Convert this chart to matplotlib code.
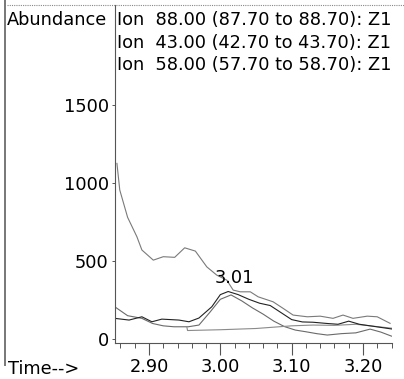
import matplotlib
matplotlib.use("Agg")
import matplotlib.pyplot as plt
from matplotlib.ticker import MultipleLocator
from matplotlib.lines import Line2D

# ion traces (time in min, abundance)
t_88 = [2.855, 2.859, 2.870, 2.883, 2.890, 2.906, 2.920, 2.936, 2.950, 2.965,
        2.981, 2.995, 3.009, 3.018, 3.028, 3.042, 3.053, 3.074, 3.088, 3.102,
        3.122, 3.140, 3.158, 3.172, 3.186, 3.206, 3.220, 3.238]
ab_88 = [1126, 955, 780, 656, 571, 506, 528, 524, 585, 564,
         463, 410, 378, 314, 303, 303, 271, 239, 197, 154,
         143, 147, 133, 154, 133, 147, 143, 101]

t_43 = [2.852, 2.872, 2.890, 2.904, 2.918, 2.942, 2.956, 2.970, 2.988, 3.000,
        3.011, 3.025, 3.040, 3.055, 3.070, 3.085, 3.100, 3.115, 3.130, 3.150,
        3.165, 3.180, 3.195, 3.210, 3.225, 3.240]
ab_43 = [133, 122, 143, 111, 128, 122, 111, 135, 207, 285,
         305, 285, 255, 230, 215, 170, 125, 110, 108, 100,
         95, 115, 95, 85, 75, 65]

t_58 = [2.852, 2.870, 2.890, 2.905, 2.920, 2.935, 2.955, 2.970, 2.985, 3.000,
        3.015, 3.030, 3.045, 3.060, 3.075, 3.090, 3.105, 3.120, 3.135, 3.150,
        3.170, 3.190, 3.210, 3.225, 3.240]
ab_58 = [207, 150, 133, 100, 85, 79, 79, 90, 170, 255,
         283, 245, 200, 160, 115, 80, 58, 47, 35, 26,
         35, 40, 64, 45, 19]

t_base = [2.953, 2.954, 3.000, 3.050, 3.100, 3.130, 3.160, 3.190, 3.220, 3.240]
ab_base = [79, 55, 60, 68, 85, 90, 88, 95, 80, 70]

ion_labels = ["Ion  88.00 (87.70 to 88.70): Z1",
              "Ion  43.00 (42.70 to 43.70): Z1",
              "Ion  58.00 (57.70 to 58.70): Z1"]
peak_rt = 3.01
peak_ab = 305

W, H = 404, 379
fig = plt.figure(figsize=(W / 100, H / 100), dpi=100)
fig.patch.set_facecolor("white")
ax = fig.add_axes([115 / W, 1 - 343 / H, (392 - 115) / W, (343 - 5) / H])

fs = 12.8
ax.plot(t_88, ab_88, color="#7a7a7a", lw=0.8)
ax.plot(t_58, ab_58, color="#6a6a6a", lw=0.8)
ax.plot(t_base, ab_base, color="#8a8a8a", lw=0.8)
ax.plot(t_43, ab_43, color="#222222", lw=0.8)

# retention time label over the peak
ax.annotate(f"{peak_rt:.2f}", (peak_rt, peak_ab), xytext=(5, 6),
            textcoords="offset points", ha="center", va="baseline", fontsize=fs)

ax.set_xlim(2.8523, 3.2407)
ax.set_ylim(-25, 2141)
ax.set_xticks([2.90, 3.00, 3.10, 3.20])
ax.set_xticklabels(["2.90", "3.00", "3.10", "3.20"])
ax.xaxis.set_minor_locator(MultipleLocator(0.02))
ax.set_yticks([0, 500, 1000, 1500])
ax.tick_params(axis="x", which="major", length=8.5, width=0.8, direction="out",
               labelsize=fs, pad=2, color="#555555")
ax.tick_params(axis="x", which="minor", length=3.6, width=0.7, direction="out",
               color="#555555")
ax.tick_params(axis="y", length=2.5, width=0.7, direction="out", labelsize=fs,
               pad=2, color="#555555")
for s in ["top", "right"]:
    ax.spines[s].set_visible(False)
for s in ["left", "bottom"]:
    ax.spines[s].set_color("#555555")
    ax.spines[s].set_linewidth(0.8)

# header text
fig.text(7 / W, 1 - 25 / H, "Abundance", fontsize=fs, va="baseline", ha="left")
for i, lab in enumerate(ion_labels):
    fig.text(117 / W, 1 - (25 + 22.5 * i) / H, lab, fontsize=fs,
             va="baseline", ha="left")
fig.text(8 / W, 1 - 374 / H, "Time-->", fontsize=fs, va="baseline", ha="left")

# frame lines
fig.add_artist(Line2D([7 / W, 1], [1 - 5 / H, 1 - 5 / H], color="#888888",
                      lw=0.8, ls=(0, (1, 1))))
fig.add_artist(Line2D([5 / W, 5 / W], [1, 1 - 365 / H], color="#777777",
                      lw=1.4))

fig.savefig("out.png", dpi=100, facecolor="white")
